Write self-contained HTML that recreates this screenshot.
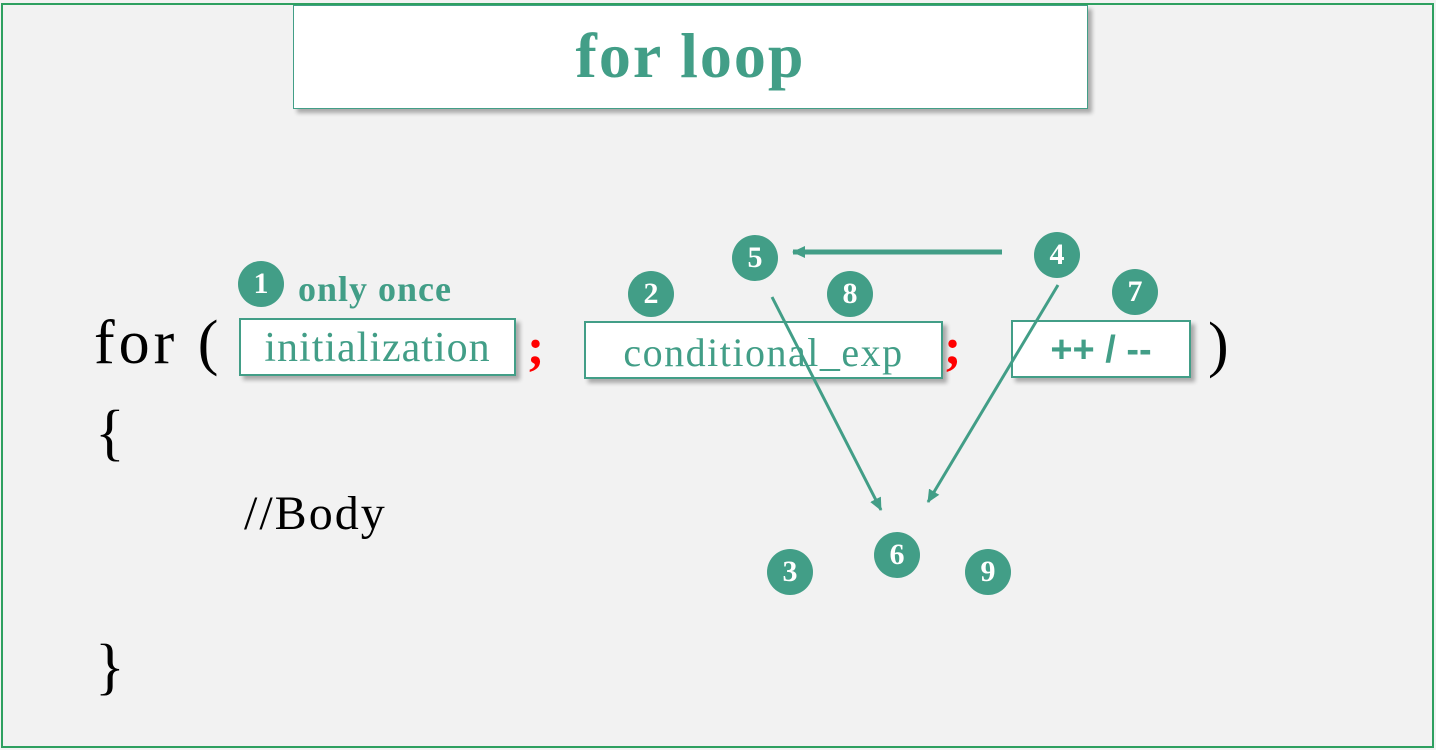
<!DOCTYPE html>
<html><head><style>
body{margin:0;width:1436px;height:750px;background:#f2f2f2;position:relative;overflow:hidden;font-family:"Liberation Serif",serif}
.frame{position:absolute;left:1px;top:3px;width:1433px;height:745px;border:2px solid #2ea060;box-sizing:border-box}
.box{position:absolute;background:#fff;border:2px solid #429e87;box-sizing:border-box;box-shadow:4px 4px 4px rgba(0,0,0,.3);color:#429e87;text-align:center;white-space:nowrap}
.c{position:absolute;width:46px;height:46px;border-radius:50%;background:#429e87;color:#fff;font:bold 30px "Liberation Serif",serif;text-align:center;line-height:46px}
.t{position:absolute;white-space:nowrap;color:#000}
.r{position:absolute;color:#f00;font-size:52px;font-weight:bold}
</style></head><body>
<div class="frame"></div>
<div class="box" style="left:293px;top:5px;width:795px;height:104px;border-width:1.5px;font:bold 64px/100px 'Liberation Serif',serif;letter-spacing:2px">for loop</div>
<div class="t" style="left:94px;top:308px;font-size:62px;letter-spacing:4px">for (</div>
<div class="t" style="left:1208px;top:310px;font-size:62px">)</div>
<div class="t" style="left:95px;top:398px;font-size:62px">{</div>
<div class="t" style="left:95px;top:632px;font-size:62px">}</div>
<div class="t" style="left:244px;top:486px;font-size:48px;letter-spacing:2px">//Body</div>
<div class="box" style="left:239px;top:318px;width:277px;height:58px;font-size:42px;line-height:56px;letter-spacing:1px">initialization</div>
<div class="box" style="left:584px;top:321px;width:359px;height:58px;font-size:40px;line-height:60px;letter-spacing:1.5px">conditional_exp</div>
<div class="box" style="left:1011px;top:320px;width:180px;height:58px;font:bold 38px/56px 'Liberation Sans',sans-serif">++ / --</div>
<div class="r" style="left:527px;top:318px">;</div>
<div class="r" style="left:944px;top:318px">;</div>
<div class="t" style="left:298px;top:268px;font:bold 36px 'Liberation Serif',serif;letter-spacing:1px;color:#429e87">only once</div>
<div class="c" style="left:238px;top:261px">1</div>
<div class="c" style="left:628px;top:271px">2</div>
<div class="c" style="left:827px;top:271px">8</div>
<div class="c" style="left:1112px;top:269px">7</div>
<div class="c" style="left:732px;top:235px">5</div>
<div class="c" style="left:1034px;top:232px">4</div>
<div class="c" style="left:767px;top:549px">3</div>
<div class="c" style="left:874px;top:532px">6</div>
<div class="c" style="left:965px;top:549px">9</div>
<svg width="1436" height="750" style="position:absolute;left:0;top:0">
<defs><marker id="a" markerWidth="14" markerHeight="14" refX="12" refY="7" orient="auto" markerUnits="userSpaceOnUse"><path d="M0,1 L13,7 L0,13 z" fill="#429e87"/></marker></defs>
<g stroke="#429e87" fill="none">
<line x1="1002" y1="252" x2="793" y2="252" stroke-width="5" marker-end="url(#a)"/>
<line x1="772" y1="297" x2="881" y2="510" stroke-width="3" marker-end="url(#a)"/>
<line x1="1058" y1="285" x2="928" y2="502" stroke-width="3" marker-end="url(#a)"/>
</g></svg>
</body></html>
